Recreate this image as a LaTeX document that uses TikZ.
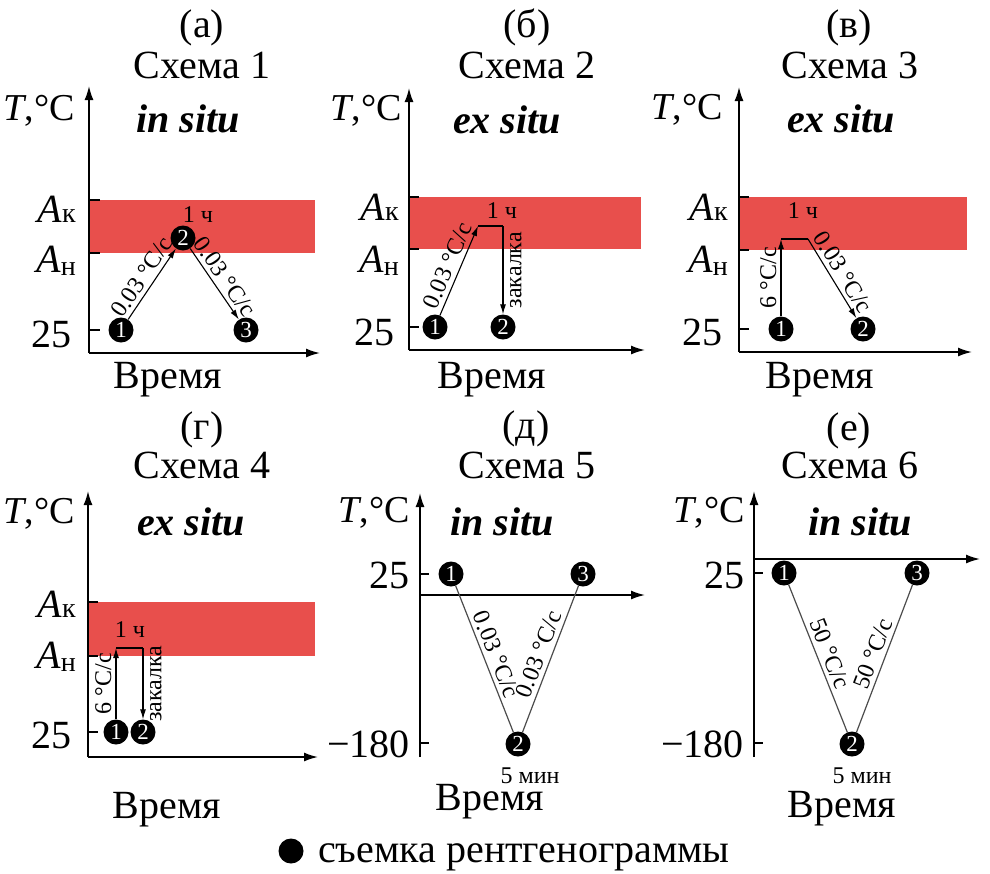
\documentclass[tikz,border=0pt]{standalone}
\usepackage{fontspec}
\setmainfont{Liberation Serif}
\usetikzlibrary{arrows.meta}
\definecolor{bandred}{RGB}{232,79,76}
\newcommand{\fbig}{\fontsize{40}{44}\selectfont}
\newcommand{\ftc}{\fontsize{38}{42}\selectfont}
\newcommand{\fsml}{\fontsize{24}{26}\selectfont}
\newcommand{\fnum}{\fontsize{23}{24}\selectfont}
\newcommand{\fsitu}{\fontsize{40}{44}\selectfont\bfseries\itshape}
\newcommand{\Ak}{\textit{A}\raisebox{0pt}{\fontsize{28}{28}\selectfont к}}
\newcommand{\An}{\textit{A}\raisebox{-3pt}{\fontsize{28}{28}\selectfont н}}
\begin{document}
\begin{tikzpicture}[x=1pt,y=-1pt,
  ax/.style={line width=1.6pt,-{Latex[length=14pt,width=9pt]}},
  tk/.style={line width=1.2pt},
  arr/.style={line width=1.1pt,-{Latex[length=10pt,width=6pt]}},
  seg/.style={line width=1.1pt},
  ln/.style={line width=1.2pt,draw=black!70},
  dot/.style={circle,fill=black,text=white,minimum size=25pt,inner sep=0pt,font=\fnum},
  lbl/.style={font=\fbig,anchor=base east,inner sep=0pt},
  tclbl/.style={font=\ftc,anchor=base east,inner sep=0pt},
  ttl/.style={font=\fbig,anchor=base,inner sep=0pt},
  situ/.style={font=\fsitu,anchor=base,inner sep=0pt},
  small/.style={font=\fsml,anchor=base,inner sep=0pt},
  rate/.style={font=\fsml,sloped,inner sep=4pt},
  vlbl/.style={font=\fsml,rotate=90,inner sep=0pt,outer sep=7pt}]
\useasboundingbox (0,0) rectangle (990,873);

% ---------- Panel a ----------
\fill[bandred] (89,200) rectangle (315,253);
\draw[tk] (89,200) -- (100,200) (89,253) -- (100,253) (89,330) -- (100,330);
\coordinate (aO) at (89,353);
\coordinate (aY) at (89,86);
\coordinate (aX) at (320,353);
\draw[ax] (aO) -- (aY);
\draw[ax] (aO) -- (aX);
\node[ttl] (aL) at (202,37) {(а)};
\node[ttl] (aT) at (202,78) {Схема 1};
\node[situ] (aS) at (188,132) {in situ};
\node[tclbl] (aTC) at (75,120) {\textit{T},°C};
\node[lbl] (aAk) at (76,222) {\Ak};
\node[lbl] (aAn) at (76,272) {\An};
\node[lbl] (a25) at (72,347) {25};
\node[ttl] (aV) at (168,388) {Время};
\node[dot] (a1) at (121,330) {1};
\node[dot] (a2) at (183,238) {2};
\node[dot] (a3) at (246,330) {3};
\draw[arr] (a1) -- node[rate,above] {0.03 °C/с} (a2);
\draw[arr] (a2) -- node[rate,above] {0.03 °C/с} (a3);
\node[small] (ah) at (198,222) {1 ч};

% ---------- Panel b ----------
\fill[bandred] (409,197) rectangle (641,249);
\draw[tk] (409,197) -- (419,197) (409,249) -- (419,249) (409,327) -- (419,327);
\coordinate (bO) at (409,350);
\coordinate (bY) at (409,88);
\coordinate (bX) at (645,350);
\draw[ax] (bO) -- (bY);
\draw[ax] (bO) -- (bX);
\node[ttl] (bL) at (527,37) {(б)};
\node[ttl] (bT) at (527,78) {Схема 2};
\node[situ] (bS) at (507,133) {ex situ};
\node[tclbl] (bTC) at (402,120) {\textit{T},°C};
\node[lbl] (bAk) at (399,220) {\Ak};
\node[lbl] (bAn) at (399,272) {\An};
\node[lbl] (b25) at (395,345) {25};
\node[ttl] (bV) at (492,388) {Время};
\node[dot] (b1) at (435,327) {1};
\node[dot] (b2) at (503,327) {2};
\coordinate (bA) at (478,226);
\coordinate (bB) at (503,226);
\draw[arr] (b1) -- node[rate,above] {0.03 °C/с} (bA);
\draw[seg] (bA) -- (bB);
\draw[arr] (bB) -- node[vlbl,anchor=north] {закалка} (b2);
\node[small] (bh) at (502,218) {1 ч};

% ---------- Panel c ----------
\fill[bandred] (739,197) rectangle (967,250);
\draw[tk] (739,197) -- (749,197) (739,250) -- (749,250) (739,329) -- (749,329);
\coordinate (cO) at (739,352);
\coordinate (cY) at (739,87);
\coordinate (cX) at (972,352);
\draw[ax] (cO) -- (cY);
\draw[ax] (cO) -- (cX);
\node[ttl] (cL) at (849,37) {(в)};
\node[ttl] (cT) at (850,78) {Схема 3};
\node[situ] (cS) at (841,132) {ex situ};
\node[tclbl] (cTC) at (723,119) {\textit{T},°C};
\node[lbl] (cAk) at (728,220) {\Ak};
\node[lbl] (cAn) at (728,272) {\An};
\node[lbl] (c25) at (723,345) {25};
\node[ttl] (cV) at (820,388) {Время};
\node[dot] (c1) at (781,329) {1};
\node[dot] (c2) at (863,329) {2};
\coordinate (cA) at (781,239);
\coordinate (cB) at (808,239);
\draw[arr] (c1) -- node[rate,above] {6 °C/с} (cA);
\draw[seg] (cA) -- (cB);
\draw[arr] (cB) -- node[rate,above] {0.03 °C/с} (c2);
\node[small] (ch) at (803,218) {1 ч};

% ---------- Panel d ----------
\fill[bandred] (88,602) rectangle (315,656);
\draw[tk] (88,602) -- (98,602) (88,656) -- (98,656) (88,732) -- (98,732);
\coordinate (dO) at (88,757);
\coordinate (dY) at (88,491);
\coordinate (dX) at (318,757);
\draw[ax] (dO) -- (dY);
\draw[ax] (dO) -- (dX);
\node[ttl] (dL) at (202,439) {(г)};
\node[ttl] (dT) at (202,478) {Схема 4};
\node[situ] (dS) at (191,535) {ex situ};
\node[tclbl] (dTC) at (75,523) {\textit{T},°C};
\node[lbl] (dAk) at (76,617) {\Ak};
\node[lbl] (dAn) at (76,668) {\An};
\node[lbl] (d25) at (72,748) {25};
\node[ttl] (dV) at (167,818) {Время};
\node[dot] (d1) at (116,732) {1};
\node[dot] (d2) at (143,732) {2};
\coordinate (dA) at (116,648);
\coordinate (dB) at (143,648);
\draw[arr] (d1) -- node[rate,above] {6 °C/с} (dA);
\draw[seg] (dA) -- (dB);
\draw[arr] (dB) -- node[vlbl,anchor=north] {закалка} (d2);
\node[small] (dh) at (130,637) {1 ч};

% ---------- Panel e ----------
\coordinate (eO) at (420,757);
\coordinate (eY) at (420,493);
\coordinate (eXs) at (420,595);
\coordinate (eX) at (645,595);
\draw[ax] (eO) -- (eY);
\draw[ax] (eXs) -- (eX);
\draw[tk] (420,574) -- (429,574) (420,743) -- (429,743);
\node[ttl] (eL) at (526,438) {(д)};
\node[ttl] (eT) at (527,478) {Схема 5};
\node[situ] (eS) at (502,535) {in situ};
\node[tclbl] (eTC) at (410,522) {\textit{T},°C};
\node[lbl] (e25) at (410,588) {25};
\node[lbl] (e180) at (410,757) {−180};
\node[ttl] (eV) at (490,810) {Время};
\node[dot] (e1) at (451,574) {1};
\node[dot] (e2) at (518,744) {2};
\node[dot] (e3) at (583,574) {3};
\draw[ln] (e1) -- node[rate,above] {0.03 °C/с} (e2);
\draw[ln] (e2) -- node[rate,above] {0.03 °C/с} (e3);
\node[small] (em) at (530,783) {5 мин};

% ---------- Panel f ----------
\coordinate (fO) at (754,757);
\coordinate (fY) at (754,491);
\coordinate (fXs) at (754,559);
\coordinate (fX) at (980,559);
\draw[ax] (fO) -- (fY);
\draw[ax] (fXs) -- (fX);
\draw[tk] (754,573) -- (763,573) (754,743) -- (763,743);
\node[ttl] (fL) at (849,440) {(е)};
\node[ttl] (fT) at (850,478) {Схема 6};
\node[situ] (fS) at (860,535) {in situ};
\node[tclbl] (fTC) at (745,522) {\textit{T},°C};
\node[lbl] (f25) at (745,588) {25};
\node[lbl] (f180) at (744,757) {−180};
\node[ttl] (fV) at (842,817) {Время};
\node[dot] (f1) at (784,573) {1};
\node[dot] (f2) at (852,744) {2};
\node[dot] (f3) at (917,573) {3};
\draw[ln] (f1) -- node[rate,above] {50 °C/с} (f2);
\draw[ln] (f2) -- node[rate,above] {50 °C/с} (f3);
\node[small] (fm) at (862,783) {5 мин};

% ---------- Legend ----------
\node[circle,fill=black,minimum size=25pt,inner sep=0pt] (leg) at (291,851) {};
\node[font=\fbig,anchor=base west,inner sep=0pt] (legt) at (318,862) {съемка рентгенограммы};
\end{tikzpicture}
\end{document}
